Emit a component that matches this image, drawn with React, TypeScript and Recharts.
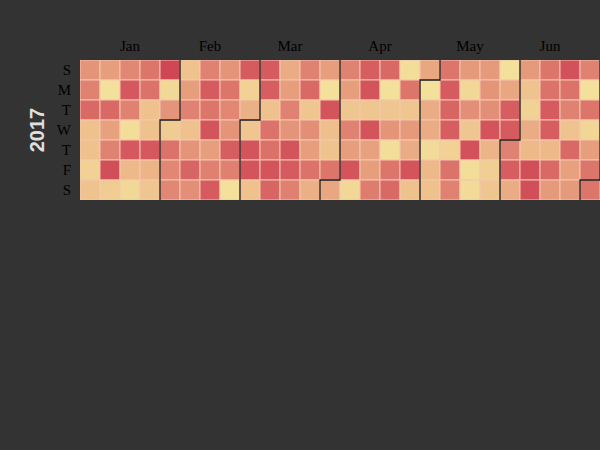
import React from 'react';
import { ScatterChart, Scatter, XAxis, YAxis, Label } from 'recharts';

const YEAR = 2017;
const WEEKS = 26;
const monthNames = ['Jan', 'Feb', 'Mar', 'Apr', 'May', 'Jun', 'Jul', 'Aug', 'Sep', 'Oct', 'Nov', 'Dec'];
const dayLabels = ['S', 'M', 'T', 'W', 'T', 'F', 'S'];

// values per weekday row, one entry per week column (week 0 = Jan 1-7)
const sunVals = [55, 50, 62, 72, 100, 28, 65, 55, 88, 88, 42, 65, 50, 65, 86, 80, 5, 45, 72, 52, 52, 3, 52, 72, 94, 65];
const monVals = [65, 3, 90, 74, 10, 50, 88, 72, 15, 86, 50, 80, 3, 50, 92, 3, 72, 3, 88, 10, 55, 45, 28, 74, 74, 3];
const tueVals = [80, 80, 65, 30, 55, 65, 72, 62, 40, 30, 65, 25, 92, 25, 25, 25, 25, 42, 82, 58, 58, 86, 15, 88, 65, 72];
const wedVals = [30, 48, 5, 30, 20, 30, 92, 55, 25, 74, 55, 58, 32, 65, 92, 55, 52, 42, 86, 25, 92, 88, 42, 86, 28, 12];
const thuVals = [30, 65, 90, 90, 74, 55, 50, 86, 92, 75, 92, 50, 28, 50, 48, 5, 42, 8, 15, 94, 38, 65, 35, 35, 80, 50];
const friVals = [15, 95, 35, 38, 62, 82, 66, 66, 92, 92, 88, 74, 72, 92, 50, 72, 92, 35, 74, 5, 18, 86, 95, 80, 48, 72];
const satVals = [28, 20, 10, 25, 62, 58, 88, 3, 30, 82, 66, 40, 45, 10, 68, 80, 30, 30, 65, 8, 25, 42, 95, 52, 52, 72];
const weekdayValues = [sunVals, monVals, tueVals, wedVals, thuVals, friVals, satVals];

const colorStops: [number, [number, number, number]][] = [
  [0, [243, 228, 156]],
  [33, [238, 189, 139]],
  [66, [223, 128, 112]],
  [100, [207, 71, 85]],
];
function colorFor(v: number) {
  for (let i = 1; i < colorStops.length; i++) {
    const [p1, c1] = colorStops[i];
    const [p0, c0] = colorStops[i - 1];
    if (v <= p1) {
      const t = (v - p0) / (p1 - p0);
      const c = c0.map((a, k) => Math.round(a + (c1[k] - a) * t));
      return `rgb(${c[0]},${c[1]},${c[2]})`;
    }
  }
  const c = colorStops[colorStops.length - 1][1];
  return `rgb(${c[0]},${c[1]},${c[2]})`;
}

const jan1Dow = new Date(YEAR, 0, 1).getDay();
function dayIndex(m: number, d: number) {
  return Math.round((Date.UTC(YEAR, m, d) - Date.UTC(YEAR, 0, 1)) / 86400000);
}
function weekOf(m: number, d: number) {
  return Math.floor((dayIndex(m, d) + jan1Dow) / 7);
}
function dowOf(m: number, d: number) {
  return new Date(YEAR, m, d).getDay();
}

const data: { week: number; day: number; value: number }[] = [];
for (let w = 0; w < WEEKS; w++) {
  for (let d = 0; d < 7; d++) {
    data.push({ week: w + 0.5, day: d + 0.5, value: weekdayValues[d][w] });
  }
}

const monthTicks: number[] = [];
const monthTickName: Record<string, string> = {};
for (let m = 0; m < 12; m++) {
  const lastDay = new Date(YEAR, m + 1, 0).getDate();
  const mid = (weekOf(m, 1) + weekOf(m, lastDay) + 1) / 2;
  if (mid < WEEKS) {
    monthTicks.push(mid);
    monthTickName[String(mid)] = monthNames[m];
  }
}

// month split paths (ECharts-style step outline at each month start)
const splitPaths: { week: number; day: number }[][] = [];
for (let m = 1; m < 12; m++) {
  const w = weekOf(m, 1);
  const r = dowOf(m, 1);
  if (w >= WEEKS) break;
  if (r === 0) {
    splitPaths.push([{ week: w, day: 0 }, { week: w, day: 7 }]);
  } else {
    splitPaths.push([
      { week: w + 1, day: 0 },
      { week: w + 1, day: r },
      { week: w, day: r },
      { week: w, day: 7 },
    ]);
  }
}

const CELL = 20;

const CellShape = (props: any) => {
  const { cx, cy, payload } = props;
  return (
    <rect
      x={cx - CELL / 2}
      y={cy - CELL / 2}
      width={CELL}
      height={CELL}
      fill={colorFor(payload.value)}
      stroke="#f5c6b2"
      strokeWidth={1}
    />
  );
};

const NoShape = () => <g />;

const YearLabel = (props: any) => {
  const vb = props.viewBox || { x: 0, y: 60, width: 80, height: 140 };
  const cx = vb.x + 37;
  const cy = vb.y + vb.height / 2;
  return (
    <text
      x={cx}
      y={cy}
      transform={`rotate(-90 ${cx} ${cy})`}
      textAnchor="middle"
      dominantBaseline="central"
      fill="#e0e0e0"
      fontSize={20}
      fontWeight="bold"
      fontFamily='"Liberation Sans", Arial, sans-serif'
    >
      {YEAR}
    </text>
  );
};

const tickStyle = { fill: '#000', fontSize: 15, fontFamily: '"Liberation Serif", "Times New Roman", serif' };

export default function App() {
  return (
    <div style={{ position: 'absolute', left: 0, top: 0, width: 600, height: 450, background: '#333333' }}>
      <ScatterChart width={600} height={450} margin={{ top: 0, right: 0, bottom: 250, left: 0 }}>
        <XAxis
          type="number"
          dataKey="week"
          domain={[0, WEEKS]}
          orientation="top"
          height={60}
          ticks={monthTicks}
          interval={0}
          tickFormatter={(v: number) => monthTickName[String(v)] || ''}
          axisLine={false}
          tickLine={false}
          tickMargin={3}
          tick={tickStyle}
          allowDataOverflow
        />
        <YAxis
          type="number"
          dataKey="day"
          domain={[0, 7]}
          reversed
          width={80}
          ticks={[0.5, 1.5, 2.5, 3.5, 4.5, 5.5, 6.5]}
          interval={0}
          tickFormatter={(v: number) => dayLabels[Math.floor(v)]}
          axisLine={false}
          tickLine={false}
          tickMargin={3}
          tick={tickStyle}
          allowDataOverflow
        >
          <Label content={<YearLabel />} />
        </YAxis>
        <Scatter data={data} shape={<CellShape />} isAnimationActive={false} />
        {splitPaths.map((pts, i) => (
          <Scatter
            key={i}
            data={pts}
            shape={<NoShape />}
            line={{ stroke: '#1a1a1a', strokeWidth: 1.3 }}
            lineType="joint"
            isAnimationActive={false}
          />
        ))}
      </ScatterChart>
    </div>
  );
}
